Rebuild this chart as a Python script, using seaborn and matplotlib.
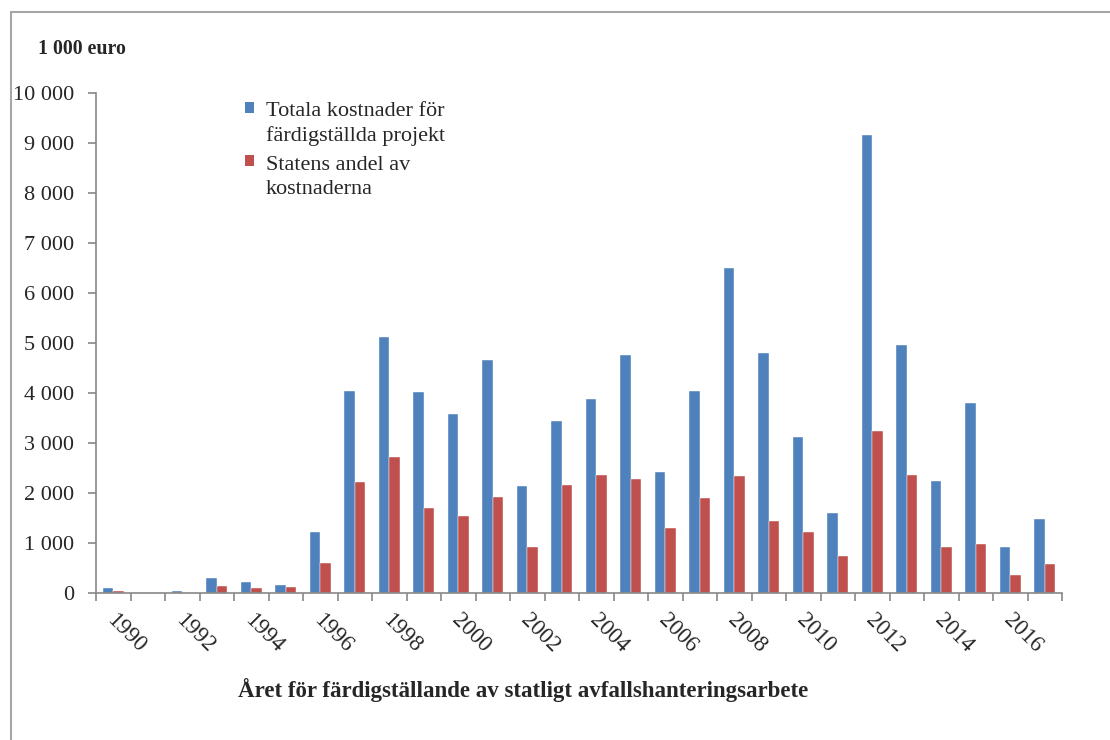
import matplotlib
matplotlib.use("Agg")
import matplotlib.pyplot as plt
from matplotlib.patches import Rectangle
from matplotlib.lines import Line2D
from matplotlib.legend_handler import HandlerPatch
from matplotlib.ticker import FuncFormatter, FixedLocator
import matplotlib.transforms as mtransforms
import seaborn as sns
import pandas as pd

years = list(range(1990, 2018))
totala = [100, 0, 45, 300, 220, 170, 1230, 4050, 5130, 4030, 3580, 4660, 2140, 3440,
          3880, 4760, 2420, 4050, 6500, 4800, 3130, 1600, 9170, 4960, 2250, 3810, 930, 1490]
statens = [40, 0, 0, 150, 100, 130, 600, 2230, 2720, 1700, 1550, 1930, 920, 2170,
           2360, 2290, 1300, 1900, 2340, 1450, 1230, 740, 3250, 2360, 920, 990, 370, 590]
series_names = ["Totala kostnader för\nfärdigställda projekt", "Statens andel av\nkostnaderna"]
colors = ["#4F81BD", "#C0504D"]
y_title = "1 000 euro"
x_title = "Året för färdigställande av statligt avfallshanteringsarbete"

df = pd.DataFrame({
    "year": [str(y) for y in years] * 2,
    "value": totala + statens,
    "series": [series_names[0]] * len(years) + [series_names[1]] * len(years),
})

sns.set_style("white")
plt.rcParams["font.family"] = ["Liberation Serif", "DejaVu Serif"]

fig = plt.figure(figsize=(11.1, 7.4), dpi=100)
ax = fig.add_axes([96 / 1110, 1 - 593 / 740, (1062 - 96) / 1110, 500 / 740])

sns.barplot(data=df, x="year", y="value", hue="series", palette=colors,
            width=0.6, saturation=1, ax=ax, legend=True, errorbar=None)

for p in ax.patches:
    p.set_edgecolor("white")
    p.set_linewidth(0.3)

n = len(years)
ax.set_xlim(-0.5, n - 0.5)
ax.set_ylim(0, 10000)
ax.set_yticks(range(0, 10001, 1000))
ax.yaxis.set_major_formatter(FuncFormatter(lambda v, p: f"{int(v):,}".replace(",", " ")))
ax.tick_params(axis="y", direction="out", length=6, color="#888888", width=1.2,
               labelsize=16, pad=10, left=True)

label_pos = list(range(0, n, 2))
ax.set_xticks(label_pos)
ax.set_xticklabels([str(years[i]) for i in label_pos], rotation=-45, ha="left",
                   va="top", fontsize=16.5)
ax.tick_params(axis="x", which="major", length=0, pad=12)
ax.xaxis.set_minor_locator(FixedLocator([i - 0.5 for i in range(n + 1)]))
ax.tick_params(axis="x", which="minor", direction="out", length=6, color="#888888",
               width=1.2, bottom=True)
shift = mtransforms.ScaledTranslation(-11 / 100, 0, fig.dpi_scale_trans)
for lbl in ax.get_xticklabels():
    lbl.set_transform(lbl.get_transform() + shift)

for s in ["top", "right"]:
    ax.spines[s].set_visible(False)
for s in ["left", "bottom"]:
    ax.spines[s].set_color("#888888")
    ax.spines[s].set_linewidth(1.2)
ax.set_xlabel("")
ax.set_ylabel("")


class TopHandler(HandlerPatch):
    def create_artists(self, legend, orig_handle, xdescent, ydescent, width,
                       height, fontsize, trans):
        r = Rectangle((-xdescent, -ydescent + 0.62 * fontsize * 1.15), width, height,
                      facecolor=orig_handle.get_facecolor(), edgecolor="none",
                      transform=trans)
        return [r]


handles = [Rectangle((0, 0), 1, 1, facecolor=c) for c in colors]
leg = ax.legend(handles, series_names, loc="upper left",
                bbox_to_anchor=((236 - 96) / 966, 1.0), frameon=False, fontsize=16,
                handlelength=0.4, handleheight=0.4, handletextpad=0.55,
                labelspacing=0.45, borderaxespad=0,
                handler_map={Rectangle: TopHandler()})
for t in leg.get_texts():
    t.set_linespacing(1.35)

fig.text(38 / 1110, 1 - 49 / 740, y_title, fontsize=14.3, fontweight="bold",
         ha="left", va="center")
fig.text(523 / 1110, 1 - 690 / 740, x_title, fontsize=16.5, fontweight="bold",
         ha="center", va="center")

# outer frame (top and left edges visible)
fig.add_artist(Line2D([11 / 1110, 1.0], [1 - 12 / 740, 1 - 12 / 740],
                      transform=fig.transFigure, color="#A6A6A6", linewidth=1.5))
fig.add_artist(Line2D([11 / 1110, 11 / 1110], [0, 1 - 12 / 740],
                      transform=fig.transFigure, color="#A6A6A6", linewidth=1.5))

fig.savefig("out.png", dpi=100)
